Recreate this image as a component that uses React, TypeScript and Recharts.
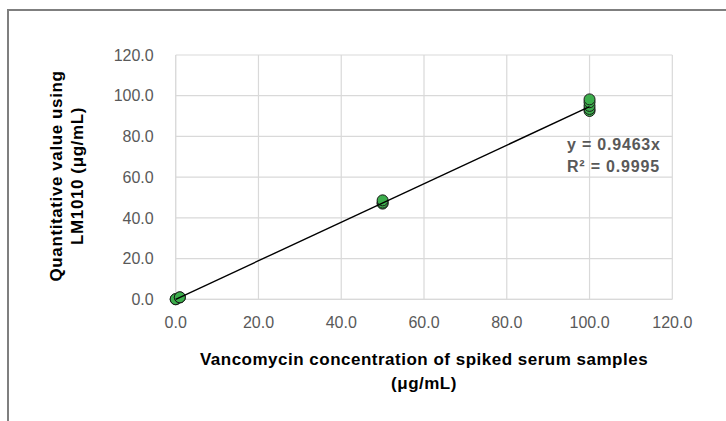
import { ScatterChart, Scatter, XAxis, YAxis, CartesianGrid } from 'recharts';

const xTicks = [0, 20, 40, 60, 80, 100, 120];
const yTicks = [0, 20, 40, 60, 80, 100, 120];

// spiked concentration (µg/mL) vs. measured value with LM1010 (µg/mL)
const spikedConc = [0, 0, 1, 1, 50, 50, 50, 100, 100, 100, 100, 100];
const measuredValue = [0, 0.1, 0.9, 1.0, 47, 47.5, 48.6, 92.5, 93.5, 95, 96.8, 98.2];

// linear trendline through origin, y = 0.9463x
const trendX = [0, 100];
const trendY = [0, 94.63];

const samples = spikedConc.map((x, i) => ({ x, y: measuredValue[i] }));
const trend = trendX.map((x, i) => ({ x, y: trendY[i] }));

const font = '"Liberation Sans", Arial, sans-serif';
const tickStyle = { fontSize: 16, fill: '#595959', fontFamily: font };

const Dot = (props: any) => (
  <circle cx={props.cx} cy={props.cy} r={5.5} fill="#3cae4c" stroke="#1a1a1a" strokeWidth={1} />
);

export default function App() {
  return (
    <div style={{ position: 'absolute', left: 0, top: 0, width: 726, height: 421, background: '#fff', overflow: 'hidden', fontFamily: font }}>
      <div
        style={{
          position: 'absolute',
          left: 7,
          top: 9,
          width: 760,
          height: 460,
          borderTop: '2px solid #7f7f7f',
          borderLeft: '2px solid #7f7f7f',
        }}
      />
      <ScatterChart width={726} height={421} margin={{ top: 55, right: 53.7, bottom: 91.7, left: 115.7 }}>
        <CartesianGrid stroke="#d9d9d9" strokeWidth={1.2} />
        <XAxis
          type="number"
          dataKey="x"
          domain={[0, 120]}
          ticks={xTicks}
          tickFormatter={(v) => v.toFixed(1)}
          axisLine={{ stroke: '#d9d9d9' }}
          tickLine={false}
          tickSize={0}
          tickMargin={17}
          height={30}
          tick={tickStyle}
          interval={0}
        />
        <YAxis
          type="number"
          dataKey="y"
          domain={[0, 120]}
          ticks={yTicks}
          tickFormatter={(v) => v.toFixed(1)}
          axisLine={{ stroke: '#d9d9d9' }}
          tickLine={false}
          tickSize={0}
          tickMargin={22}
          width={60}
          tick={tickStyle}
          interval={0}
        />
        <Scatter data={samples} shape={Dot} isAnimationActive={false} />
        <Scatter
          data={trend}
          line={{ stroke: '#000', strokeWidth: 1.4 }}
          shape={() => <g />}
          isAnimationActive={false}
        />
      </ScatterChart>
      <div
        style={{
          position: 'absolute',
          left: 67 - 150,
          top: 176 - 21,
          width: 300,
          height: 42,
          lineHeight: '21px',
          fontSize: 17,
          fontWeight: 'bold',
          letterSpacing: 0.6,
          color: '#000',
          textAlign: 'center',
          transform: 'rotate(-90deg)',
          whiteSpace: 'nowrap',
        }}
      >
        Quantitative value using
        <br />
        LM1010 (μg/mL)
      </div>
      <div
        style={{
          position: 'absolute',
          left: 424 - 300,
          top: 347.5,
          width: 600,
          lineHeight: '24px',
          fontSize: 17,
          fontWeight: 'bold',
          letterSpacing: 0.5,
          color: '#000',
          textAlign: 'center',
          whiteSpace: 'nowrap',
        }}
      >
        Vancomycin concentration of spiked serum samples
        <br />
        (μg/mL)
      </div>
      <div
        style={{
          position: 'absolute',
          left: 567,
          top: 134,
          lineHeight: '21.5px',
          fontSize: 16,
          fontWeight: 'bold',
          color: '#595959',
          letterSpacing: 0.8,
          whiteSpace: 'nowrap',
        }}
      >
        y = 0.9463x
        <br />
        R² = 0.9995
      </div>
    </div>
  );
}
